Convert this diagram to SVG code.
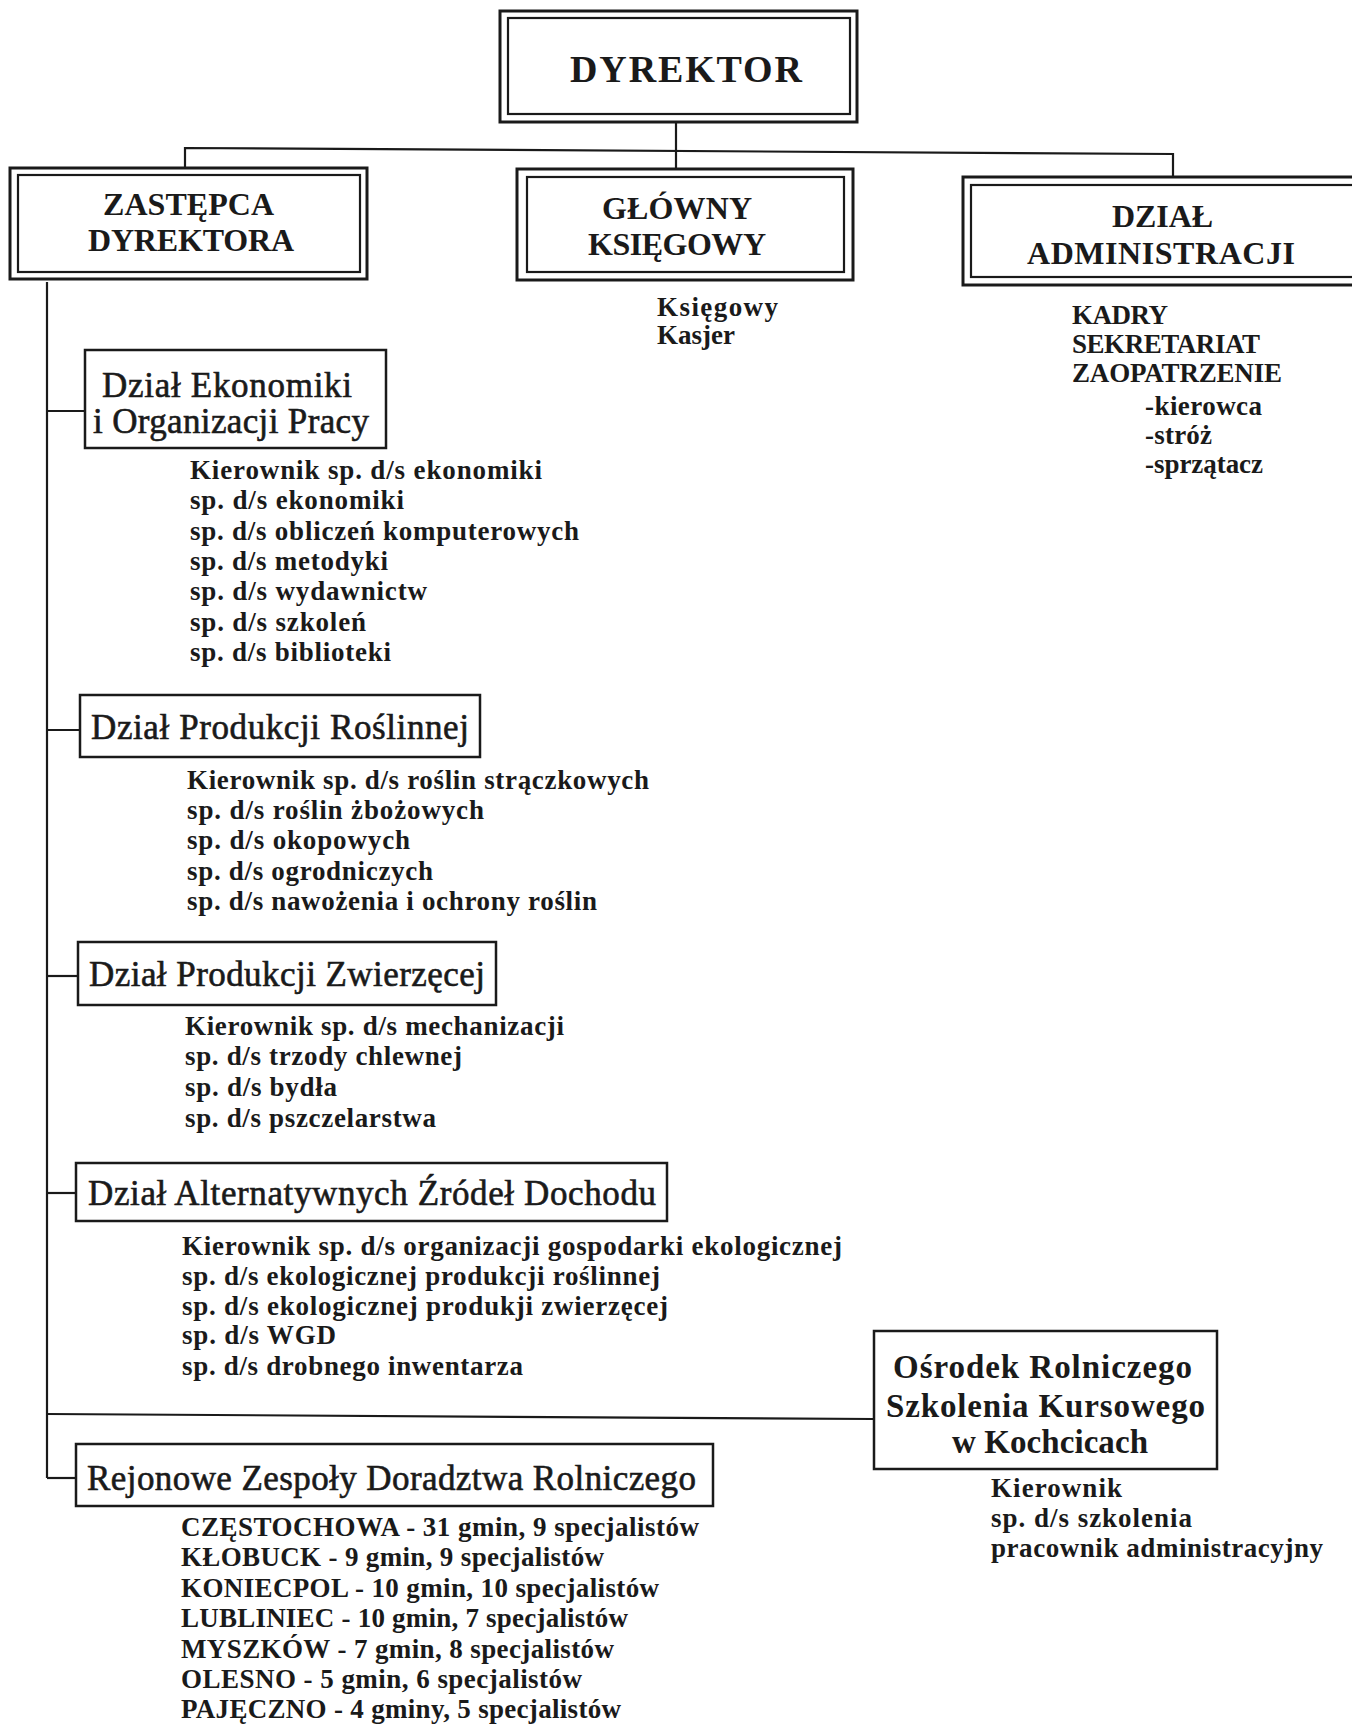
<svg xmlns="http://www.w3.org/2000/svg" width="1352" height="1724" viewBox="0 0 1352 1724">
<style>
text{font-family:"Liberation Serif","Times New Roman",serif;fill:#1a1a1a}
.hd{font-size:32px;font-weight:bold}
.dz{font-size:35px;stroke:#1a1a1a;stroke-width:0.6}
.os{font-size:33px;font-weight:bold}
.li{font-size:27px;font-weight:bold}
.ob{fill:none;stroke:#1a1a1a;stroke-width:3}
.ib{fill:none;stroke:#1a1a1a;stroke-width:2.2}
.sb{fill:none;stroke:#1a1a1a;stroke-width:2.5}
.cn{fill:none;stroke:#1a1a1a;stroke-width:2.2}
</style>
<rect width="1352" height="1724" fill="#fff"/>
<g id="connectors">
<polyline class="cn" points="676,123 676,169"/>
<polyline class="cn" points="185,168 185,148 1173,154 1173,177"/>
<polyline class="cn" points="47,282 47,1478"/>
<line class="cn" x1="47" y1="411" x2="85" y2="411"/>
<line class="cn" x1="47" y1="730" x2="80" y2="730"/>
<line class="cn" x1="47" y1="976" x2="78" y2="976"/>
<line class="cn" x1="47" y1="1193" x2="76" y2="1193"/>
<line class="cn" x1="47" y1="1414" x2="874" y2="1419"/>
<line class="cn" x1="47" y1="1478" x2="76" y2="1478"/>
</g>
<g id="dyrektor">
<rect class="ob" x="500" y="11" width="357" height="111"/>
<rect class="ib" x="508" y="18" width="342" height="96"/>
<text x="570" y="82" style="font-size:38px;font-weight:bold" textLength="232">DYREKTOR</text>
</g>
<g id="zastepca">
<rect class="ob" x="10" y="168" width="357" height="111"/>
<rect class="ib" x="18" y="175" width="342" height="97"/>
<text class="hd" x="103" y="215" textLength="171">ZASTĘPCA</text>
<text class="hd" x="88" y="251" textLength="206">DYREKTORA</text>
</g>
<g id="glowny">
<rect class="ob" x="517" y="169" width="336" height="111"/>
<rect class="ib" x="527" y="177" width="317" height="95"/>
<text class="hd" x="602" y="219" textLength="150">GŁÓWNY</text>
<text class="hd" x="588" y="255" textLength="178">KSIĘGOWY</text>
<text class="li" x="657" y="316" textLength="121">Księgowy</text>
<text class="li" x="657" y="344" textLength="78">Kasjer</text>
</g>
<g id="administracja">
<rect class="ob" x="963" y="177" width="400" height="108"/>
<rect class="ib" x="971" y="185" width="390" height="92"/>
<text class="hd" x="1112" y="227" textLength="101">DZIAŁ</text>
<text class="hd" x="1027" y="264" textLength="268">ADMINISTRACJI</text>
<text class="li" x="1072" y="324" textLength="96">KADRY</text>
<text class="li" x="1072" y="353" textLength="188">SEKRETARIAT</text>
<text class="li" x="1072" y="382" textLength="210">ZAOPATRZENIE</text>
<text class="li" x="1145" y="415" textLength="117">-kierowca</text>
<text class="li" x="1145" y="444" textLength="67">-stróż</text>
<text class="li" x="1145" y="473" textLength="118">-sprzątacz</text>
</g>
<g id="ekonomiki">
<rect class="sb" x="85" y="350" width="301" height="98"/>
<text class="dz" x="102" y="397" textLength="250">Dział Ekonomiki</text>
<text class="dz" x="93" y="433" textLength="276">i Organizacji Pracy</text>
<text class="li" x="190" y="479" textLength="352">Kierownik sp. d/s ekonomiki</text>
<text class="li" x="190" y="509" textLength="214">sp. d/s ekonomiki</text>
<text class="li" x="190" y="540" textLength="389">sp. d/s obliczeń komputerowych</text>
<text class="li" x="190" y="570" textLength="198">sp. d/s metodyki</text>
<text class="li" x="190" y="600" textLength="237">sp. d/s wydawnictw</text>
<text class="li" x="190" y="631" textLength="176">sp. d/s szkoleń</text>
<text class="li" x="190" y="661" textLength="201">sp. d/s biblioteki</text>
</g>
<g id="roslinnej">
<rect class="sb" x="80" y="695" width="400" height="62"/>
<text class="dz" x="91" y="739" textLength="378">Dział Produkcji Roślinnej</text>
<text class="li" x="187" y="789" textLength="462">Kierownik sp. d/s roślin strączkowych</text>
<text class="li" x="187" y="819" textLength="297">sp. d/s roślin żbożowych</text>
<text class="li" x="187" y="849" textLength="223">sp. d/s okopowych</text>
<text class="li" x="187" y="880" textLength="246">sp. d/s ogrodniczych</text>
<text class="li" x="187" y="910" textLength="410">sp. d/s nawożenia i ochrony roślin</text>
</g>
<g id="zwierzecej">
<rect class="sb" x="78" y="942" width="418" height="63"/>
<text class="dz" x="89" y="986" textLength="396">Dział Produkcji Zwierzęcej</text>
<text class="li" x="185" y="1035" textLength="379">Kierownik sp. d/s mechanizacji</text>
<text class="li" x="185" y="1065" textLength="277">sp. d/s trzody chlewnej</text>
<text class="li" x="185" y="1096" textLength="152">sp. d/s bydła</text>
<text class="li" x="185" y="1127" textLength="251">sp. d/s pszczelarstwa</text>
</g>
<g id="alternatywnych">
<rect class="sb" x="76" y="1163" width="591" height="58"/>
<text class="dz" x="88" y="1205" textLength="568">Dział Alternatywnych Źródeł Dochodu</text>
<text class="li" x="182" y="1255" textLength="660">Kierownik sp. d/s organizacji gospodarki ekologicznej</text>
<text class="li" x="182" y="1285" textLength="478">sp. d/s ekologicznej produkcji roślinnej</text>
<text class="li" x="182" y="1315" textLength="486">sp. d/s ekologicznej produkji zwierzęcej</text>
<text class="li" x="182" y="1344" textLength="154">sp. d/s WGD</text>
<text class="li" x="182" y="1375" textLength="341">sp. d/s drobnego inwentarza</text>
</g>
<g id="osrodek">
<rect class="sb" x="874" y="1331" width="343" height="138"/>
<text class="os" x="893" y="1378" textLength="299">Ośrodek Rolniczego</text>
<text class="os" x="886" y="1417" textLength="319">Szkolenia Kursowego</text>
<text class="os" x="952" y="1453" textLength="196">w Kochcicach</text>
<text class="li" x="991" y="1497" textLength="131">Kierownik</text>
<text class="li" x="991" y="1527" textLength="201">sp. d/s szkolenia</text>
<text class="li" x="991" y="1557" textLength="332">pracownik administracyjny</text>
</g>
<g id="rejonowe">
<rect class="sb" x="76" y="1444" width="637" height="62"/>
<text class="dz" x="87" y="1490" textLength="609">Rejonowe Zespoły Doradztwa Rolniczego</text>
<text class="li" x="181" y="1536" textLength="518">CZĘSTOCHOWA - 31 gmin, 9 specjalistów</text>
<text class="li" x="181" y="1566" textLength="423">KŁOBUCK - 9 gmin, 9 specjalistów</text>
<text class="li" x="181" y="1597" textLength="478">KONIECPOL - 10 gmin, 10 specjalistów</text>
<text class="li" x="181" y="1627" textLength="447">LUBLINIEC - 10 gmin, 7 specjalistów</text>
<text class="li" x="181" y="1658" textLength="433">MYSZKÓW - 7 gmin, 8 specjalistów</text>
<text class="li" x="181" y="1688" textLength="401">OLESNO - 5 gmin, 6 specjalistów</text>
<text class="li" x="181" y="1718" textLength="440">PAJĘCZNO - 4 gminy, 5 specjalistów</text>
</g>
</svg>
